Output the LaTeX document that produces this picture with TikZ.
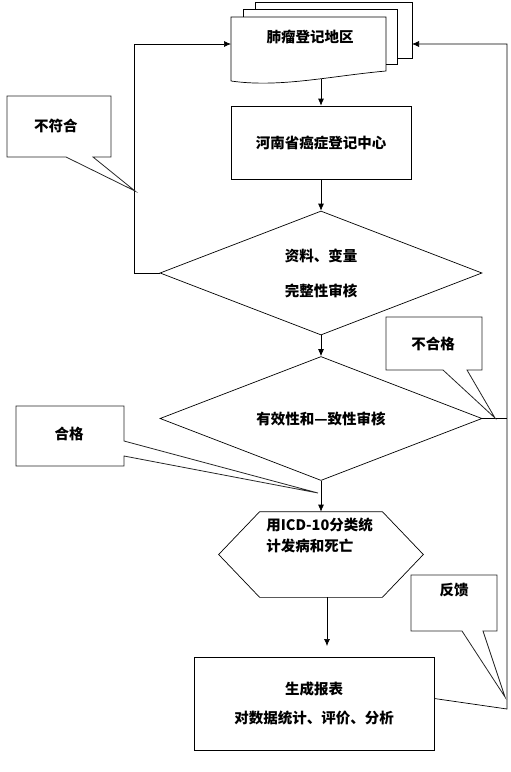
\documentclass[tikz,border=0pt]{standalone}
\usepackage{fontspec}
\setmainfont{Noto Sans CJK SC}
\usetikzlibrary{arrows.meta}
\usetikzlibrary{positioning}
\usetikzlibrary{shapes.geometric}

\tikzset{
  lbl/.style={inner sep=0pt, font=\bfseries\fontsize{14.5}{21}\selectfont},
  box/.style={lbl, draw, align=center},
  chk/.style={lbl, draw, diamond, aspect=2.6, align=center,
    minimum width=322pt, minimum height=124pt},
  note/.style={draw=black!85, line width=0.8pt},
}

\begin{document}
\begin{tikzpicture}[x=1pt, y=-1pt, line width=0.7pt,
  >={Latex[length=7pt,width=6pt]}]
  \useasboundingbox (0,0) rectangle (511,772);
  \pgfmathsetmacro{\xc}{321}
  \pgfmathsetmacro{\xr}{507}

  % stack of sheets
  \draw (255,9) -- (255,2) -- (412,2) -- (412,58) -- (397,58);
  \draw (243,17) -- (243,9) -- (397,9) -- (397,64) -- (386,64);
  \draw (231,81) -- (231,17) -- (386,17) -- (386,71)
    .. controls (330,76) and (280,88) .. (231,81);
  \node[lbl] (area) at (310,37) {肺瘤登记地区};
  \coordinate (areab) at (\xc,79);
  \coordinate (areal) at (231,44);
  \coordinate (arear) at (412,44);

  \node[box, minimum width=180pt, minimum height=73pt] (ctr) at (\xc,142.5)
    {河南省癌症登记中心};
  \node[chk] (chka) at (\xc,273) {资料、变量\\[14pt]完整性审核};
  \node[chk] (chkb) at (\xc,418.5) {有效性和—致性审核};

  % hexagon
  \node[minimum width=204pt, minimum height=85pt, inner sep=0pt] (icd)
    at (\xc,554.5) {};
  \draw (icd.west) -- ([xshift=41]icd.north west) -- ([xshift=-41]icd.north east)
    -- (icd.east) -- ([xshift=-41]icd.south east) -- ([xshift=41]icd.south west)
    -- cycle;
  \node[lbl, align=left, anchor=north west] (icdt) at (266,518)
    {用ICD-10分类统\\计发病和死亡};

  \node[box, minimum width=240pt, minimum height=93pt] (rep) at (314,703.5)
    {生成报表\\[8pt]对数据统计、评价、分析};
  \coordinate (rept) at (327,646);

  \draw[->] (areab) -- (ctr.north);
  \draw[->] (ctr) -- (chka);
  \draw[->] (chka) -- (chkb);
  \draw[->] (chkb) -- (icd);
  \draw[->] (icd.south -| rept) -- (rept);

  % loops back
  \draw[->] (chka.west) -- ++(-25,0) |- (areal);
  \draw (chkb.east) -- (\xr,418.5);
  \draw[->] ([yshift=5]rep.east) -- (\xr,709) |- (arear);

  % callouts
  \node[lbl] (bad) at (56,126) {不符合};
  \draw[note] (7,96) -- (111,96) -- (111,157) -- (93,157) -- (135,191)
    -- (66,157) -- (7,157) -- cycle;
  \node[lbl] (fail) at (433,344) {不合格};
  \draw[note] (386,317) -- (482,317) -- (482,370) -- (467,370) -- (495,418)
    -- (443,370) -- (386,370) -- cycle;
  \node[lbl] (pass) at (69,434) {合格};
  \draw[note] (16,406) -- (124,406) -- (124,441) -- (318,493) -- (124,456)
    -- (124,466) -- (16,466) -- cycle;
  \node[lbl] (back) at (454,590) {反馈};
  \draw[note] (411,575) -- (497,575) -- (497,631) -- (483,631) -- (505,697)
    -- (462,631) -- (411,631) -- cycle;
\end{tikzpicture}
\end{document}
